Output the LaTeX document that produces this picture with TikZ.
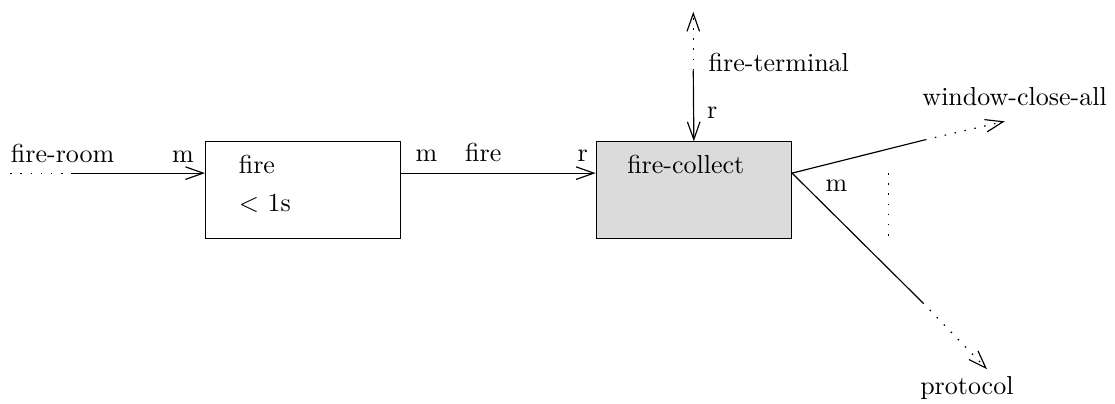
\documentclass[tikz,border=0pt]{standalone}
\usetikzlibrary{arrows.meta}
\definecolor{collectgray}{gray}{0.86}
\tikzset{
  block/.style={draw, minimum width=2.64cm, minimum height=1.31cm, anchor=north west, inner sep=0pt},
  lbl/.style={anchor=base west, inner sep=0pt},
  dotline/.style={dash pattern=on 0.6pt off 3.3pt},
  >={Straight Barb[length=2.4mm,width=1.7mm]}
}
\begin{document}
\begin{tikzpicture}[line width=0.45pt]
	\useasboundingbox (0,0) rectangle (15.07,-5.46);
	% blocks
	\node[block] (fire) at (2.77,-1.91) {};
	\node[block, fill=collectgray] (collect) at (8.05,-1.91) {};
	\node[lbl] (firename) at (3.22,-2.34) {fire};
	\node[lbl] (firetime) at (3.22,-2.86) {$<$ 1s};
	\node[lbl] (collectname) at (8.47,-2.34) {fire-collect};
	
	% loose ends
	\coordinate (room) at (0.14,-2.34);
	\coordinate (roomcut) at (0.97,-2.34);
	\coordinate (term) at (9.37,-0.16);
	\coordinate (termcut) at (9.37,-0.95);
	\coordinate (windowcut) at (12.5,-1.89);
	\coordinate (window) at (13.58,-1.64);
	\coordinate (protocut) at (12.47,-4.09);
	\coordinate (proto) at (13.34,-4.99);
	\coordinate (more) at (12.01,-2.34);
	\coordinate (moreend) at (12.01,-3.24);
	
	% fire-room -> fire -> fire-collect
	\draw[dotline] (room) -- (roomcut);
	\draw[->] (roomcut) -- (fire.west |- roomcut);
	\draw[->] (fire.east |- roomcut) -- (collect.west |- roomcut);
	\node[lbl] at (0.14,-2.19) {fire-room};
	\node[lbl] at (2.32,-2.19) {m};
	\node[lbl] at (5.61,-2.18) {m};
	\node[lbl] at (6.28,-2.18) {fire};
	\node[lbl] at (7.8,-2.18) {r};
	
	% fire-terminal
	\draw[->] (termcut) -- (collect.north);
	\draw[dotline, ->] (termcut) -- (term);
	\node[lbl] at (9.57,-0.97) {fire-terminal};
	\node[lbl] at (9.55,-1.6) {r};
	
	% outputs of fire-collect
	\draw (collect.east |- roomcut) -- (windowcut);
	\draw[dotline, ->] (windowcut) -- (window);
	\draw (collect.east |- roomcut) -- (protocut);
	\draw[dotline, ->] (protocut) -- (proto);
	\draw[dotline] (more) -- (moreend);
	\node[lbl] at (12.46,-1.42) {window-close-all};
	\node[lbl] at (11.15,-2.59) {m};
	\node[lbl] at (12.43,-5.33) {protocol};
\end{tikzpicture}
\end{document}
